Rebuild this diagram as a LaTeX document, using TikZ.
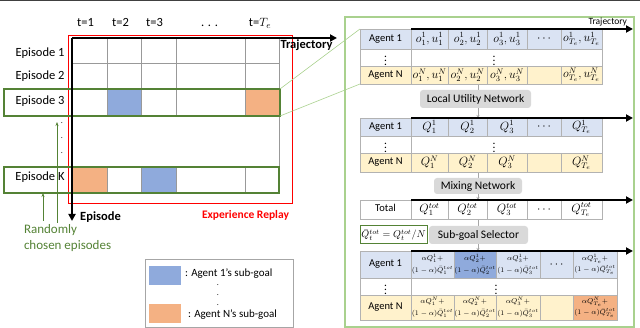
\documentclass[tikz,border=0pt]{standalone}
\usepackage{fontspec}
\setmainfont{Carlito}
\usetikzlibrary{arrows.meta}
\definecolor{lblue}{HTML}{DAE3F3}
\definecolor{lyel}{HTML}{FFF2CC}
\definecolor{sblue}{HTML}{8FAADC}
\definecolor{sorange}{HTML}{F4B183}
\definecolor{dgreen}{HTML}{548235}
\definecolor{lgreen}{HTML}{A9D18E}
\definecolor{boxgray}{HTML}{D9D9D9}
\definecolor{ered}{HTML}{FF0000}
\definecolor{topline}{HTML}{404040}
\tikzset{
  every node/.style={inner sep=0pt, outer sep=0pt},
  gridline/.style={draw=gray!80, line width=0.6pt},
  tcell/.style={draw=gray!60, line width=0.6pt},
  axisarrow/.style={line width=1.8pt, -{Triangle[length=7pt,width=7pt]}},
  eplbl/.style={font=\fontsize{12.5}{14}\selectfont, anchor=base},
  tlbl/.style={font=\fontsize{10.5}{12}\selectfont, anchor=mid},
  tmath/.style={font=\fontsize{11.5}{13}\selectfont},
  tsmall/.style={font=\fontsize{7.4}{11.5}\selectfont, align=center},
  netbox/.style={fill=boxgray, rounded corners=3pt, font=\fontsize{11.5}{13}\selectfont},
  flow/.style={draw=gray!70, line width=0.6pt, -{Stealth[length=3pt,width=3pt]}},
  epbox/.style={draw=dgreen, line width=1.5pt, inner sep=0pt},
  garrow/.style={draw=dgreen, line width=0.8pt, -{Stealth[length=4pt,width=3pt]}},
}
\begin{document}
\begin{tikzpicture}[x=1pt,y=-1pt]
\useasboundingbox (0,0) rectangle (640,328);
\draw[topline, line width=1.5pt] (0,0.75) -- (640,0.75);

% ---------------- left grid ----------------
\fill[sblue] (107,89) rectangle (141,116);
\fill[sorange] (245,89) rectangle (279,116);
\fill[sorange] (72,167) rectangle (107,193);
\fill[sblue] (141,167) rectangle (176,193);
\foreach \y in {63,89,116,167,193} \draw[gridline] (72,\y) -- (279,\y);
\foreach \x in {107,141,176,245} \draw[gridline] (\x,38) -- (\x,116) (\x,167) -- (\x,193);
\draw[gridline] (279,38) -- (279,193);

\draw[ered, line width=0.8pt] (68,35) rectangle (292,203);

\node[eplbl] (h1) at (85.5,26.5) {t=1};
\node[eplbl] (h2) at (120.5,26.5) {t=2};
\node[eplbl] (h3) at (154.5,26.5) {t=3};
\node[eplbl] (h4) at (209.5,26.5) {. . .};
\node[eplbl] (h5) at (260,26.5) {t=$T_e$};

\node[eplbl] (e1) at (40,57) {Episode 1};
\node[eplbl] (e2) at (40,80) {Episode 2};
\node[eplbl] (e3) at (40,105) {Episode 3};
\node[eplbl] (eK) at (40,181) {Episode K};
\foreach \y [count=\i] in {123,138,153} \node[font=\fontsize{8}{8}\selectfont] (vd\i) at (62,\y) {.};

\node[epbox, minimum width=276pt, minimum height=27pt] (ep3box) at (142,102.5) {};
\node[epbox, minimum width=275pt, minimum height=26pt] (epKbox) at (141.5,180) {};

\coordinate (orig) at (72,38);
\coordinate (trajend) at (337,38);
\coordinate (epend) at (72,221);
\draw[axisarrow] (orig) -- (trajend);
\draw[axisarrow] (orig) -- (epend);
\node[eplbl, font=\bfseries\fontsize{12.5}{14}\selectfont] (trajlbl) at (306.5,49) {Trajectory};
\node[eplbl, font=\bfseries\fontsize{12.5}{14}\selectfont] (eplbl) at (100.5,221) {Episode};
\node[eplbl, text=ered, font=\bfseries\fontsize{11.5}{13}\selectfont] (erlbl) at (245.5,219) {Experience Replay};

\coordinate (ga1) at (43,221);
\coordinate (ga2) at (57,223);
\coordinate (ga2e) at (57,122);
\draw[garrow] (ga1) -- (ga1 |- epKbox.south);
\draw[garrow] (ga2) -- (ga2e);
\node[anchor=base west, text=dgreen, font=\fontsize{13}{16}\selectfont, align=left] (rnd) at (24,234) {Randomly};
\node[anchor=base west, text=dgreen, font=\fontsize{13}{16}\selectfont] (chosen) at (24,250) {chosen episodes};

% legend
\draw[gray!70, line width=0.8pt] (145,259) rectangle (293,327);
\fill[sblue] (149,266) rectangle (181,285);
\fill[sorange] (149,304) rectangle (181,323);
\node[anchor=base west, font=\fontsize{11}{13}\selectfont] (leg1) at (185,277) {: Agent 1's sub-goal};
\node[anchor=base west, font=\fontsize{11}{13}\selectfont] (leg2) at (188,318) {: Agent N's sub-goal};
\foreach \y [count=\i] in {285,295,305} \node[font=\fontsize{8}{8}\selectfont] (ld\i) at (218,\y) {.};

% ---------------- right panel ----------------
\draw[lgreen, line width=1.2pt] (345,17) rectangle (634,327);
\coordinate (t1nw) at (360,29);
\coordinate (t1sw) at (360,84);
\draw[lgreen, line width=0.6pt] (ep3box.north east) -- (t1nw);
\draw[lgreen, line width=0.6pt] (ep3box.south east) -- (t1sw);

% flows
\coordinate (f1a) at (478,84); \coordinate (f1b) at (478,118);
\coordinate (f2a) at (478,172); \coordinate (f2b) at (478,200);
\coordinate (f3a) at (478,219); \coordinate (f3b) at (478,251);
\draw[flow] (f1a) -- (f1b);
\draw[flow] (f2a) -- (f2b);
\draw[flow] (f3a) -- (f3b);

% table 1
\fill[lblue] (360,29) rectangle (602,49);
\fill[lyel] (360,66) rectangle (602,84);
\draw[tcell] (360,29) rectangle (602,84) (360,49) -- (602,49) (360,66) -- (602,66) (411,29) -- (411,84);
\foreach \x in {448,487,527,561} \draw[tcell] (\x,29) -- (\x,49) (\x,66) -- (\x,84);
\node[tlbl] (t1r1) at (385.5,39) {Agent 1};
\node[tmath] (t1r2) at (385.5,57.5) {$\vdots$};
\node[tlbl] (t1r3) at (385.5,75) {Agent N};
\node[tmath] (t1m) at (494,57.5) {$\vdots$};
\node[tmath] (o11) at (429.5,39) {$o_1^1,u_1^1$};
\node[tmath] (o12) at (467.5,39) {$o_2^1,u_2^1$};
\node[tmath] (o13) at (507,39) {$o_3^1,u_3^1$};
\node[tmath] (o14) at (544,39) {$\cdots$};
\node[tmath] (o15) at (581.5,39) {$o_{T_e}^1,u_{T_e}^1$};
\node[tmath] (oN1) at (429.5,75) {$o_1^N,u_1^N$};
\node[tmath] (oN2) at (467.5,75) {$o_2^N,u_2^N$};
\node[tmath] (oN3) at (507,75) {$o_3^N,u_3^N$};
\node[tmath] (oN5) at (581.5,75) {$o_{T_e}^N,u_{T_e}^N$};
\coordinate (a1s) at (411,29); \coordinate (a1e) at (633,29);
\draw[axisarrow] (a1s) -- (a1e);
\node[anchor=base east, font=\fontsize{9.5}{11}\selectfont] (traj2) at (627,25) {Trajectory};

\node[netbox, minimum width=111pt, minimum height=18pt] (lun) at (475.5,99) {Local Utility Network};

% table 2
\fill[lblue] (360,118) rectangle (602,136);
\fill[lyel] (360,153) rectangle (602,172);
\draw[tcell] (360,118) rectangle (602,172) (360,136) -- (602,136) (360,153) -- (602,153) (411,118) -- (411,172);
\foreach \x in {448,487,527,561} \draw[tcell] (\x,118) -- (\x,136) (\x,153) -- (\x,172);
\node[tlbl] (t2r1) at (385.5,127) {Agent 1};
\node[tmath] (t2r2) at (385.5,144.5) {$\vdots$};
\node[tlbl] (t2r3) at (385.5,162.5) {Agent N};
\node[tmath] (t2m) at (494,144.5) {$\vdots$};
\node[tmath] (q11) at (429.5,127) {$Q_1^1$};
\node[tmath] (q12) at (467.5,127) {$Q_2^1$};
\node[tmath] (q13) at (507,127) {$Q_3^1$};
\node[tmath] (q14) at (544,127) {$\cdots$};
\node[tmath] (q15) at (581.5,127) {$Q_{T_e}^1$};
\node[tmath] (qN1) at (429.5,162.5) {$Q_1^N$};
\node[tmath] (qN2) at (467.5,162.5) {$Q_2^N$};
\node[tmath] (qN3) at (507,162.5) {$Q_3^N$};
\node[tmath] (qN5) at (581.5,162.5) {$Q_{T_e}^N$};
\coordinate (a2s) at (411,118); \coordinate (a2e) at (633,118);
\draw[axisarrow] (a2s) -- (a2e);

\node[netbox, minimum width=88pt, minimum height=16pt] (mix) at (478,186) {Mixing Network};

% table 3
\draw[tcell] (360,200) rectangle (602,219) (411,200) -- (411,219);
\foreach \x in {448,487,527,561} \draw[tcell] (\x,200) -- (\x,219);
\node[tlbl] (t3r1) at (385.5,209.5) {Total};
\node[tmath] (qt1) at (429.5,209.5) {$Q_1^{tot}$};
\node[tmath] (qt2) at (467.5,209.5) {$Q_2^{tot}$};
\node[tmath] (qt3) at (507,209.5) {$Q_3^{tot}$};
\node[tmath] (qt4) at (544,209.5) {$\cdots$};
\node[tmath] (qt5) at (581.5,209.5) {$Q_{T_e}^{tot}$};
\coordinate (a3s) at (411,200); \coordinate (a3e) at (633,200);
\draw[axisarrow] (a3s) -- (a3e);

\node[draw=dgreen, line width=1pt, minimum width=67pt, minimum height=18pt, font=\fontsize{10}{12}\selectfont] (qbar) at (393.5,235) {$\bar{Q}_t^{tot}=Q_t^{tot}/N$};
\node[netbox, minimum width=99pt, minimum height=18pt] (sgs) at (478.5,235) {Sub-goal Selector};

% table 4
\fill[lblue] (360,251) rectangle (617,278);
\fill[sblue] (454,251) rectangle (496,278);
\fill[lyel] (360,295) rectangle (617,320);
\fill[sorange] (573,295) rectangle (617,320);
\draw[tcell] (360,251) rectangle (617,320) (360,278) -- (617,278) (360,295) -- (617,295) (411,251) -- (411,320);
\foreach \x in {454,496,540,573} \draw[tcell] (\x,251) -- (\x,278) (\x,295) -- (\x,320);
\node[tlbl] (t4r1) at (385.5,264.5) {Agent 1};
\node[tmath] (t4r2) at (385.5,286.5) {$\vdots$};
\node[tlbl] (t4r3) at (385.5,307.5) {Agent N};
\node[tmath] (t4m) at (496,286.5) {$\vdots$};
\node[tsmall] (s11) at (432.5,264.5) {$\alpha Q_1^1+$\\$(1-\alpha)\bar{Q}_1^{tot}$};
\node[tsmall] (s12) at (475,264.5) {$\alpha Q_2^1+$\\$(1-\alpha)\bar{Q}_2^{tot}$};
\node[tsmall] (s13) at (518,264.5) {$\alpha Q_3^1+$\\$(1-\alpha)\bar{Q}_3^{tot}$};
\node[tmath] (s14) at (556.5,264.5) {$\cdots$};
\node[tsmall] (s15) at (595,264.5) {$\alpha Q_{T_e}^1+$\\$(1-\alpha)\bar{Q}_{T_e}^{tot}$};
\node[tsmall] (sN1) at (432.5,307.5) {$\alpha Q_1^N+$\\$(1-\alpha)\bar{Q}_1^{tot}$};
\node[tsmall] (sN2) at (475,307.5) {$\alpha Q_2^N+$\\$(1-\alpha)\bar{Q}_2^{tot}$};
\node[tsmall] (sN3) at (518,307.5) {$\alpha Q_3^N+$\\$(1-\alpha)\bar{Q}_3^{tot}$};
\node[tsmall] (sN5) at (595,307.5) {$\alpha Q_{T_e}^N+$\\$(1-\alpha)\bar{Q}_{T_e}^{tot}$};
\coordinate (a4s) at (411,251); \coordinate (a4e) at (633,251);
\draw[axisarrow] (a4s) -- (a4e);
\end{tikzpicture}
\end{document}
